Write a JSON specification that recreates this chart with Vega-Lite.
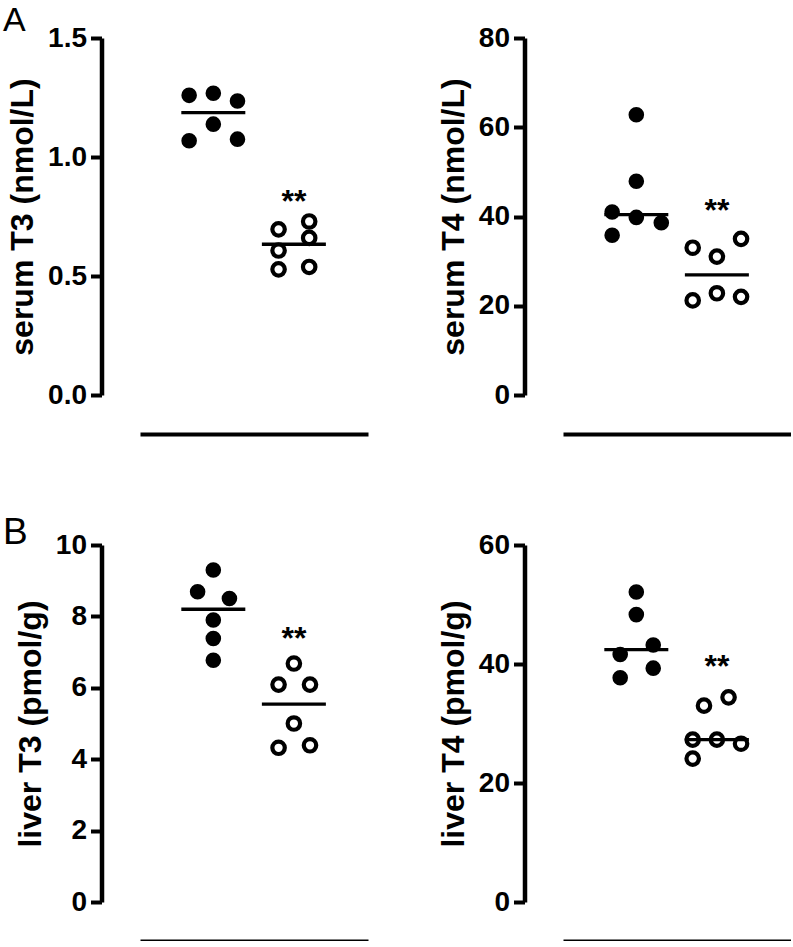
{
  "$schema": "https://vega.github.io/schema/vega-lite/v6.json",
  "background": "white",
  "padding": {"left": 3, "top": 4, "right": 0, "bottom": 0},
  "config": {
    "view": {"stroke": null},
    "font": "Liberation Sans",
    "axis": {
      "grid": false,
      "domainColor": "black",
      "domainWidth": 4.5,
      "tickColor": "black",
      "tickWidth": 4,
      "tickSize": 11,
      "labelColor": "black",
      "labelFont": "Liberation Sans",
      "labelFontSize": 28,
      "labelFontWeight": "bold",
      "labelPadding": 4,
      "titleColor": "black",
      "titleFont": "Liberation Sans",
      "titleFontSize": 32,
      "titleFontWeight": "bold",
      "titlePadding": 8,
      "offset": 38.5
    },
    "title": {"font": "Liberation Sans", "fontSize": 34, "fontWeight": "normal", "color": "black", "anchor": "start", "frame": "group", "offset": 0}
  },
  "datasets": {
    "pts": [
      {"panel": "sT3", "group": "control", "g": 1, "x": 0.70, "value": 1.259},
      {"panel": "sT3", "group": "control", "g": 1, "x": 1.00, "value": 1.268},
      {"panel": "sT3", "group": "control", "g": 1, "x": 1.30, "value": 1.235},
      {"panel": "sT3", "group": "control", "g": 1, "x": 1.00, "value": 1.138},
      {"panel": "sT3", "group": "control", "g": 1, "x": 0.70, "value": 1.068},
      {"panel": "sT3", "group": "control", "g": 1, "x": 1.30, "value": 1.075},
      {"panel": "sT3", "group": "treated", "g": 2, "x": 1.81, "value": 0.696},
      {"panel": "sT3", "group": "treated", "g": 2, "x": 1.81, "value": 0.607},
      {"panel": "sT3", "group": "treated", "g": 2, "x": 1.81, "value": 0.528},
      {"panel": "sT3", "group": "treated", "g": 2, "x": 2.19, "value": 0.729},
      {"panel": "sT3", "group": "treated", "g": 2, "x": 2.19, "value": 0.660},
      {"panel": "sT3", "group": "treated", "g": 2, "x": 2.19, "value": 0.538},
      {"panel": "sT4", "group": "control", "g": 1, "x": 1.00, "value": 62.8},
      {"panel": "sT4", "group": "control", "g": 1, "x": 1.00, "value": 47.9},
      {"panel": "sT4", "group": "control", "g": 1, "x": 0.70, "value": 41.0},
      {"panel": "sT4", "group": "control", "g": 1, "x": 1.00, "value": 39.8},
      {"panel": "sT4", "group": "control", "g": 1, "x": 1.31, "value": 38.6},
      {"panel": "sT4", "group": "control", "g": 1, "x": 0.70, "value": 35.8},
      {"panel": "sT4", "group": "treated", "g": 2, "x": 1.70, "value": 33.0},
      {"panel": "sT4", "group": "treated", "g": 2, "x": 2.00, "value": 31.0},
      {"panel": "sT4", "group": "treated", "g": 2, "x": 2.30, "value": 35.0},
      {"panel": "sT4", "group": "treated", "g": 2, "x": 1.70, "value": 21.2},
      {"panel": "sT4", "group": "treated", "g": 2, "x": 2.00, "value": 22.8},
      {"panel": "sT4", "group": "treated", "g": 2, "x": 2.30, "value": 22.0},
      {"panel": "lT3", "group": "control", "g": 1, "x": 1.00, "value": 9.30},
      {"panel": "lT3", "group": "control", "g": 1, "x": 0.805, "value": 8.69},
      {"panel": "lT3", "group": "control", "g": 1, "x": 1.20, "value": 8.50},
      {"panel": "lT3", "group": "control", "g": 1, "x": 1.00, "value": 7.90},
      {"panel": "lT3", "group": "control", "g": 1, "x": 1.00, "value": 7.38},
      {"panel": "lT3", "group": "control", "g": 1, "x": 1.00, "value": 6.77},
      {"panel": "lT3", "group": "treated", "g": 2, "x": 2.00, "value": 6.68},
      {"panel": "lT3", "group": "treated", "g": 2, "x": 1.81, "value": 6.09},
      {"panel": "lT3", "group": "treated", "g": 2, "x": 2.20, "value": 6.09},
      {"panel": "lT3", "group": "treated", "g": 2, "x": 2.00, "value": 5.00},
      {"panel": "lT3", "group": "treated", "g": 2, "x": 1.81, "value": 4.32},
      {"panel": "lT3", "group": "treated", "g": 2, "x": 2.20, "value": 4.39},
      {"panel": "lT4", "group": "control", "g": 1, "x": 1.00, "value": 52.1},
      {"panel": "lT4", "group": "control", "g": 1, "x": 1.00, "value": 48.3},
      {"panel": "lT4", "group": "control", "g": 1, "x": 1.21, "value": 43.2},
      {"panel": "lT4", "group": "control", "g": 1, "x": 0.80, "value": 41.6},
      {"panel": "lT4", "group": "control", "g": 1, "x": 1.21, "value": 39.3},
      {"panel": "lT4", "group": "control", "g": 1, "x": 0.80, "value": 37.7},
      {"panel": "lT4", "group": "treated", "g": 2, "x": 2.145, "value": 34.4},
      {"panel": "lT4", "group": "treated", "g": 2, "x": 1.84, "value": 33.0},
      {"panel": "lT4", "group": "treated", "g": 2, "x": 1.70, "value": 27.3},
      {"panel": "lT4", "group": "treated", "g": 2, "x": 2.00, "value": 27.3},
      {"panel": "lT4", "group": "treated", "g": 2, "x": 2.30, "value": 26.6},
      {"panel": "lT4", "group": "treated", "g": 2, "x": 1.70, "value": 24.1}
    ],
    "stars": [
      {"panel": "sT3", "g": 2, "y": 0.84, "label": "**"},
      {"panel": "sT4", "g": 2, "y": 42.9, "label": "**"},
      {"panel": "lT3", "g": 2, "y": 7.57, "label": "**"},
      {"panel": "lT4", "g": 2, "y": 40.7, "label": "**"}
    ]
  },
  "columns": 2,
  "bounds": "flush",
  "spacing": {"row": 150, "column": 195},
  "resolve": {"scale": {"x": "independent", "y": "independent"}},
  "concat": [
    {
      "width": 228, "height": 357,
      "title": {"text": "A", "dx": -137, "dy": 18},
      "layer": [
        {
          "data": {"name": "pts"},
          "transform": [{"filter": "datum.panel === 'sT3'"}],
          "mark": {"type": "point", "shape": "circle", "filled": true, "stroke": "black", "strokeWidth": 4.2, "opacity": 1},
          "encoding": {
            "x": {"field": "x", "type": "quantitative", "scale": {"domain": [0.09, 2.92], "nice": false, "zero": false}, "axis": {"title": null, "labels": false, "ticks": false, "domainWidth": 4, "offset": 39}},
            "y": {"field": "value", "type": "quantitative", "title": "serum T3 (nmol/L)", "scale": {"domain": [0, 1.5], "nice": false}, "axis": {"values": [0, 0.5, 1, 1.5], "format": ".1f"}},
            "fill": {"field": "group", "type": "nominal", "scale": {"domain": ["control", "treated"], "range": ["black", "transparent"]}, "legend": null},
            "size": {"field": "group", "type": "nominal", "scale": {"domain": ["control", "treated"], "range": [130, 155]}, "legend": null}
          }
        },
        {
          "data": {"name": "pts"},
          "transform": [{"filter": "datum.panel === 'sT3'"}, {"aggregate": [{"op": "median", "field": "value", "as": "med"}], "groupby": ["g"]}],
          "mark": {"type": "tick", "orient": "horizontal", "size": 64, "thickness": 3.3, "color": "black", "opacity": 1},
          "encoding": {
            "x": {"field": "g", "type": "quantitative", "title": null},
            "y": {"field": "med", "type": "quantitative", "title": "serum T3 (nmol/L)"}
          }
        },
        {
          "data": {"name": "stars"},
          "transform": [{"filter": "datum.panel === 'sT3'"}],
          "mark": {"type": "text", "fontSize": 32, "fontWeight": "bold", "baseline": "alphabetic", "align": "center", "dy": 17, "color": "black"},
          "encoding": {
            "x": {"field": "g", "type": "quantitative", "title": null},
            "y": {"field": "y", "type": "quantitative", "title": "serum T3 (nmol/L)"},
            "text": {"field": "label"}
          }
        }
      ]
    },
    {
      "width": 228, "height": 357,
      "layer": [
        {
          "data": {"name": "pts"},
          "transform": [{"filter": "datum.panel === 'sT4'"}],
          "mark": {"type": "point", "shape": "circle", "filled": true, "stroke": "black", "strokeWidth": 4.2, "opacity": 1},
          "encoding": {
            "x": {"field": "x", "type": "quantitative", "scale": {"domain": [0.09, 2.92], "nice": false, "zero": false}, "axis": {"title": null, "labels": false, "ticks": false, "domainWidth": 4, "offset": 39}},
            "y": {"field": "value", "type": "quantitative", "title": "serum T4 (nmol/L)", "scale": {"domain": [0, 80], "nice": false}, "axis": {"values": [0, 20, 40, 60, 80]}},
            "fill": {"field": "group", "type": "nominal", "scale": {"domain": ["control", "treated"], "range": ["black", "transparent"]}, "legend": null},
            "size": {"field": "group", "type": "nominal", "scale": {"domain": ["control", "treated"], "range": [130, 155]}, "legend": null}
          }
        },
        {
          "data": {"name": "pts"},
          "transform": [{"filter": "datum.panel === 'sT4'"}, {"aggregate": [{"op": "median", "field": "value", "as": "med"}], "groupby": ["g"]}],
          "mark": {"type": "tick", "orient": "horizontal", "size": 64, "thickness": 3.3, "color": "black", "opacity": 1},
          "encoding": {
            "x": {"field": "g", "type": "quantitative", "title": null},
            "y": {"field": "med", "type": "quantitative", "title": "serum T4 (nmol/L)"}
          }
        },
        {
          "data": {"name": "stars"},
          "transform": [{"filter": "datum.panel === 'sT4'"}],
          "mark": {"type": "text", "fontSize": 32, "fontWeight": "bold", "baseline": "alphabetic", "align": "center", "dy": 17, "color": "black"},
          "encoding": {
            "x": {"field": "g", "type": "quantitative", "title": null},
            "y": {"field": "y", "type": "quantitative", "title": "serum T4 (nmol/L)"},
            "text": {"field": "label"}
          }
        }
      ]
    },
    {
      "width": 228, "height": 357,
      "title": {"text": "B", "dx": -137, "dy": 25, "fontSize": 37},
      "layer": [
        {
          "data": {"name": "pts"},
          "transform": [{"filter": "datum.panel === 'lT3'"}],
          "mark": {"type": "point", "shape": "circle", "filled": true, "stroke": "black", "strokeWidth": 4.2, "opacity": 1},
          "encoding": {
            "x": {"field": "x", "type": "quantitative", "scale": {"domain": [0.09, 2.92], "nice": false, "zero": false}, "axis": {"title": null, "labels": false, "ticks": false, "domainWidth": 4, "offset": 39}},
            "y": {"field": "value", "type": "quantitative", "title": "liver T3 (pmol/g)", "scale": {"domain": [0, 10], "nice": false}, "axis": {"values": [0, 2, 4, 6, 8, 10]}},
            "fill": {"field": "group", "type": "nominal", "scale": {"domain": ["control", "treated"], "range": ["black", "transparent"]}, "legend": null},
            "size": {"field": "group", "type": "nominal", "scale": {"domain": ["control", "treated"], "range": [130, 155]}, "legend": null}
          }
        },
        {
          "data": {"name": "pts"},
          "transform": [{"filter": "datum.panel === 'lT3'"}, {"aggregate": [{"op": "median", "field": "value", "as": "med"}], "groupby": ["g"]}],
          "mark": {"type": "tick", "orient": "horizontal", "size": 64, "thickness": 3.3, "color": "black", "opacity": 1},
          "encoding": {
            "x": {"field": "g", "type": "quantitative", "title": null},
            "y": {"field": "med", "type": "quantitative", "title": "liver T3 (pmol/g)"}
          }
        },
        {
          "data": {"name": "stars"},
          "transform": [{"filter": "datum.panel === 'lT3'"}],
          "mark": {"type": "text", "fontSize": 32, "fontWeight": "bold", "baseline": "alphabetic", "align": "center", "dy": 17, "color": "black"},
          "encoding": {
            "x": {"field": "g", "type": "quantitative", "title": null},
            "y": {"field": "y", "type": "quantitative", "title": "liver T3 (pmol/g)"},
            "text": {"field": "label"}
          }
        }
      ]
    },
    {
      "width": 228, "height": 357,
      "layer": [
        {
          "data": {"name": "pts"},
          "transform": [{"filter": "datum.panel === 'lT4'"}],
          "mark": {"type": "point", "shape": "circle", "filled": true, "stroke": "black", "strokeWidth": 4.2, "opacity": 1},
          "encoding": {
            "x": {"field": "x", "type": "quantitative", "scale": {"domain": [0.09, 2.92], "nice": false, "zero": false}, "axis": {"title": null, "labels": false, "ticks": false, "domainWidth": 4, "offset": 39}},
            "y": {"field": "value", "type": "quantitative", "title": "liver T4 (pmol/g)", "scale": {"domain": [0, 60], "nice": false}, "axis": {"values": [0, 20, 40, 60]}},
            "fill": {"field": "group", "type": "nominal", "scale": {"domain": ["control", "treated"], "range": ["black", "transparent"]}, "legend": null},
            "size": {"field": "group", "type": "nominal", "scale": {"domain": ["control", "treated"], "range": [130, 155]}, "legend": null}
          }
        },
        {
          "data": {"name": "pts"},
          "transform": [{"filter": "datum.panel === 'lT4'"}, {"aggregate": [{"op": "median", "field": "value", "as": "med"}], "groupby": ["g"]}],
          "mark": {"type": "tick", "orient": "horizontal", "size": 64, "thickness": 3.3, "color": "black", "opacity": 1},
          "encoding": {
            "x": {"field": "g", "type": "quantitative", "title": null},
            "y": {"field": "med", "type": "quantitative", "title": "liver T4 (pmol/g)"}
          }
        },
        {
          "data": {"name": "stars"},
          "transform": [{"filter": "datum.panel === 'lT4'"}],
          "mark": {"type": "text", "fontSize": 32, "fontWeight": "bold", "baseline": "alphabetic", "align": "center", "dy": 17, "color": "black"},
          "encoding": {
            "x": {"field": "g", "type": "quantitative", "title": null},
            "y": {"field": "y", "type": "quantitative", "title": "liver T4 (pmol/g)"},
            "text": {"field": "label"}
          }
        }
      ]
    }
  ]
}
